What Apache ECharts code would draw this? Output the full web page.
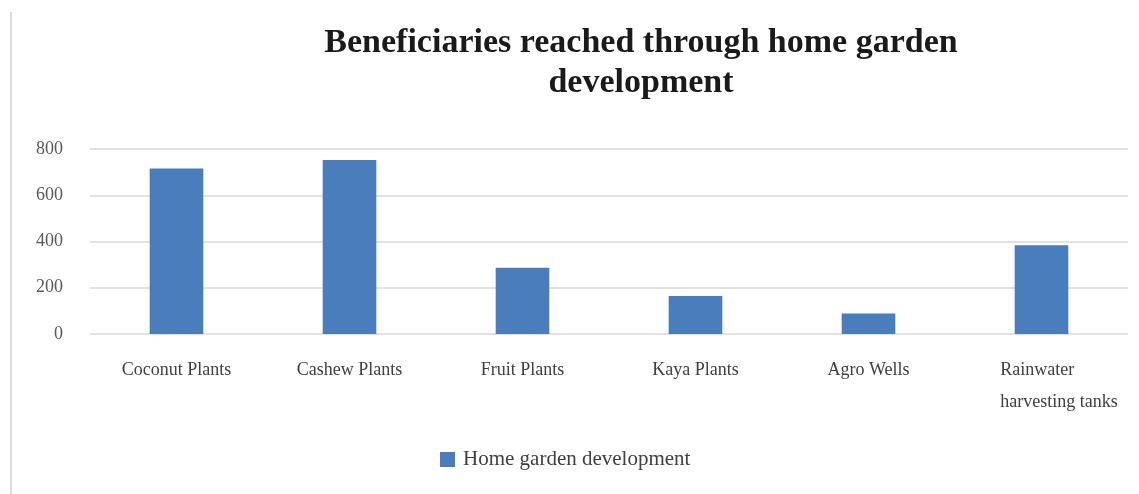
<!DOCTYPE html>
<html>
<head>
<meta charset="utf-8">
<script src="https://cdn.jsdelivr.net/npm/echarts@6/dist/echarts.min.js"></script>
<style>
  html, body { margin: 0; padding: 0; background: #ffffff; }
  #chart { width: 1139px; height: 494px; }
</style>
</head>
<body>
<div id="chart"></div>
<script>
// Beneficiaries per home garden activity
const categories = ['Coconut Plants', 'Cashew Plants', 'Fruit Plants', 'Kaya Plants', 'Agro Wells', 'Rainwater\nharvesting tanks'];
const beneficiaries = [716, 752, 287, 164, 89, 384];
const seriesName = 'Home garden development';
const titleText = 'Beneficiaries reached through home garden\ndevelopment';

const serif = '"Liberation Serif", "DejaVu Serif", serif';

const chart = echarts.init(document.getElementById('chart'), null, { renderer: 'canvas' });

chart.setOption({
  backgroundColor: '#ffffff',
  animation: false,
  title: {
    text: titleText,
    left: 636,
    textAlign: 'center',
    top: 18,
    textStyle: {
      fontFamily: serif,
      fontWeight: 'bold',
      fontSize: 34,
      lineHeight: 40,
      color: '#1a1a1a'
    }
  },
  graphic: [{
    type: 'rect',
    shape: { x: 10, y: 12, width: 2, height: 482 },
    style: { fill: '#dcdcdc' },
    silent: true
  }],
  grid: { left: 90, right: 11, top: 149, height: 185, containLabel: false },
  legend: {
    data: [seriesName],
    icon: 'rect',
    top: 444,
    left: 435,
    itemWidth: 15,
    itemHeight: 15,
    itemGap: 10,
    textStyle: { fontFamily: serif, fontSize: 21, color: '#404040', padding: [0, 0, 0, 3] }
  },
  xAxis: {
    type: 'category',
    data: categories,
    axisLine: { show: false },
    axisTick: { show: false },
    axisLabel: {
      margin: 27,
      interval: 0,
      fontFamily: serif,
      fontSize: 18,
      color: '#404040',
      // two-line label: left-aligned lines, second line spaced further down
      formatter: function (v) {
        const parts = v.split('\n');
        if (parts.length > 1) {
          return '{a|' + parts[0] + '}\n{b|' + parts[1] + '}';
        }
        return v;
      },
      rich: {
        a: {
          fontFamily: serif, fontSize: 18, color: '#404040',
          lineHeight: 18, align: 'left', padding: [0, 0, 0, 35]
        },
        b: {
          fontFamily: serif, fontSize: 18, color: '#404040',
          lineHeight: 46, align: 'left', padding: [0, 0, 0, 35]
        }
      }
    }
  },
  yAxis: {
    type: 'value',
    min: 0,
    max: 800,
    interval: 200,
    axisLine: { show: false },
    axisTick: { show: false },
    axisLabel: {
      margin: 27,
      fontFamily: serif,
      fontSize: 18,
      color: '#595959'
    },
    splitLine: { lineStyle: { color: '#d9d9d9', width: 1.5 } }
  },
  series: [{
    name: seriesName,
    type: 'bar',
    data: beneficiaries,
    barWidth: '31%',
    itemStyle: { color: '#4a7dbb' }
  }]
});
</script>
</body>
</html>
